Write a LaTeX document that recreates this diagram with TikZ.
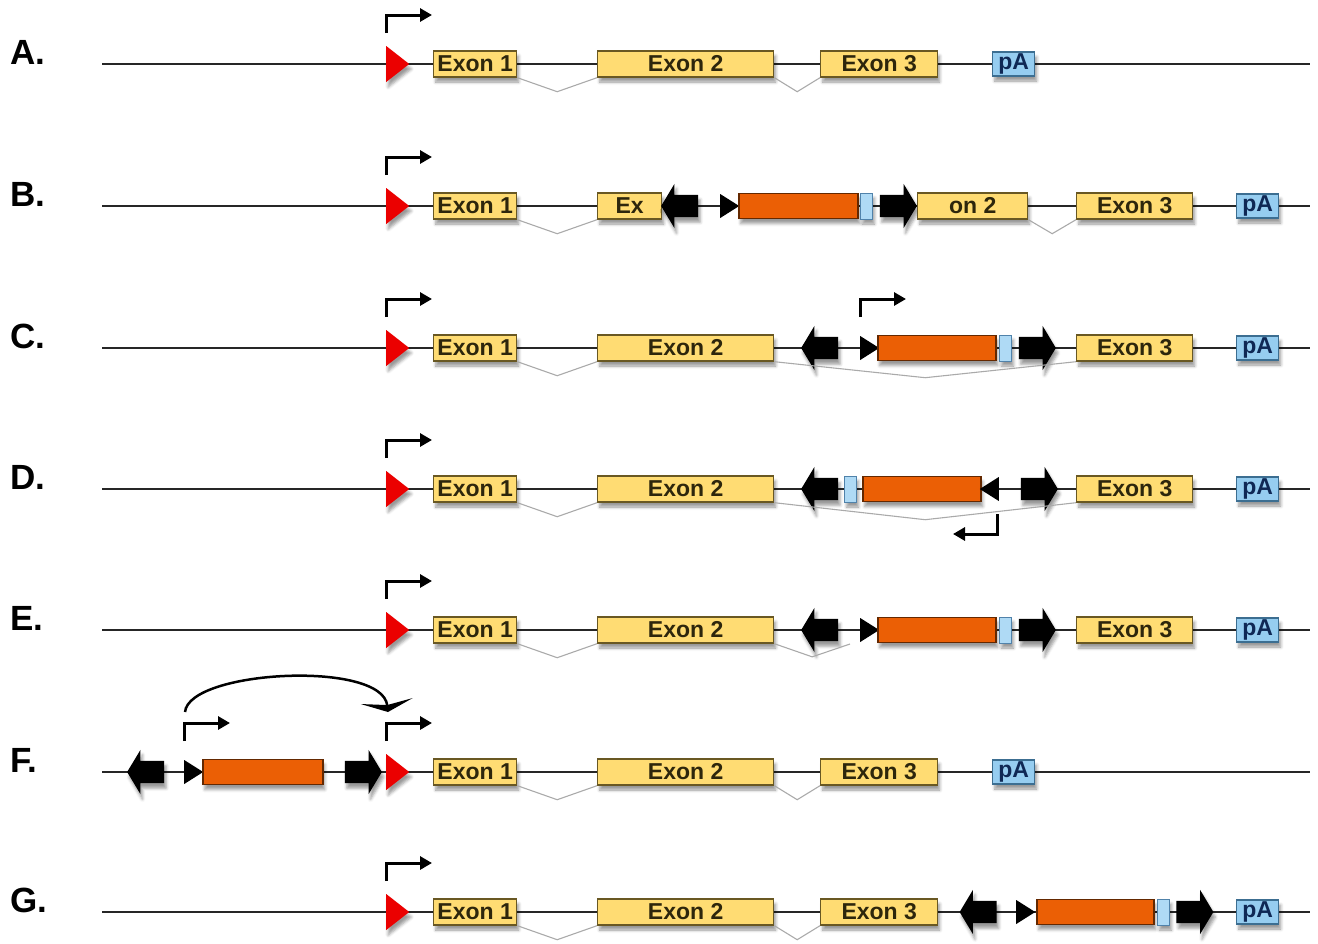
\documentclass[tikz,border=0pt]{standalone}
\usepackage{fontspec}
\setmainfont{Liberation Sans}
\usepackage{tikz}
\usetikzlibrary{arrows.meta,calc,shapes.geometric,shapes.arrows,shadows.blur}
\definecolor{exFill}{RGB}{255,220,115}
\definecolor{exLine}{RGB}{105,88,35}
\definecolor{exText}{RGB}{45,38,12}
\definecolor{paFill}{RGB}{150,205,240}
\definecolor{paLine}{RGB}{60,110,145}
\definecolor{paText}{RGB}{15,40,85}
\definecolor{cdsFill}{RGB}{235,95,5}
\definecolor{cdsLine}{RGB}{100,40,0}
\definecolor{tagFill}{RGB}{175,218,245}
\definecolor{tagLine}{RGB}{80,130,170}
\definecolor{tssRed}{RGB}{235,0,0}
\definecolor{spGrey}{RGB}{170,170,170}
\tikzset{
  shad/.style={blur shadow={shadow xshift=2pt, shadow yshift=-5pt,
               shadow blur radius=3pt, shadow opacity=40}},
  exon/.style={rectangle, draw=exLine, line width=1.4pt, fill=exFill, shad,
               minimum width=#1, minimum height=26pt, inner sep=0pt,
               text=exText, font=\fontsize{23}{23}\selectfont\bfseries},
  pa/.style={rectangle, draw=paLine, line width=1.4pt, fill=paFill, shad,
             minimum width=42pt, minimum height=24pt, inner sep=0pt,
             text=paText, font=\fontsize{23}{23}\selectfont\bfseries},
  cds/.style={rectangle, draw=cdsLine, line width=1.5pt, fill=cdsFill, shad,
              minimum width=#1, minimum height=25pt, inner sep=0pt},
  tag/.style={rectangle, draw=tagLine, line width=1pt, fill=tagFill, shad,
              minimum width=12pt, minimum height=26pt, inner sep=0pt},
  frtR/.style={single arrow, fill=black, shad, minimum height=37pt,
               inner xsep=0pt, inner ysep=11pt, single arrow head extend=11pt,
               single arrow tip angle=118},
  frtL/.style={frtR, shape border rotate=180},
  saR/.style={isosceles triangle, isosceles triangle stretches, fill=black,
              minimum width=24pt, minimum height=19pt, inner sep=0pt, anchor=west},
  saL/.style={saR, shape border rotate=180, anchor=east},
  tss/.style={isosceles triangle, isosceles triangle stretches, fill=tssRed, shad,
              minimum width=36pt, minimum height=23pt, inner sep=0pt, anchor=west},
  dna/.style={line width=2.2pt, draw=black!85},
  splice/.style={draw=spGrey, line width=1.1pt},
  prom/.style={line width=3pt, -{Triangle[length=12pt,width=13pt]}},
  jump/.style={line width=2.5pt, -{Stealth[length=11pt,width=52pt,inset=4pt]}},
  rowlbl/.style={anchor=west, inner sep=0pt, font=\fontsize{35}{35}\selectfont\bfseries},
}
\newcommand{\spliceline}[3]{%
  \draw[splice] (#1.south east) -- ($(#1.south east)!.5!(#2.south west)+(0,#3)$) -- (#2.south west);}
\newcommand{\tssarrow}[1]{\draw[prom] ([yshift=31pt]#1.west) |- ++(46,-18);}

\begin{document}
\begin{tikzpicture}[x=1pt, y=-1pt]
  \useasboundingbox (0,0) rectangle (1318,943);

  % --- backbones and row labels ---
  \foreach \y in {64,206,348,489,630,772,912}
    \draw[dna] (102,\y) -- (1310,\y);
  \foreach \lbl/\y in {A/64,B/206,C/348,D/489,E/630,F/772,G/912}
    \node[rowlbl] (row\lbl) at (10,\y-12) {\lbl.};

  % --- row A ---
  \node[tss] (tssA) at (386,64) {};
  \node[exon=83pt, anchor=west]  (e1A) at (433,64) {Exon 1};
  \node[exon=176pt, anchor=west] (e2A) at (597,64) {Exon 2};
  \node[exon=117pt, anchor=west] (e3A) at (820,64) {Exon 3};
  \node[pa, anchor=west] (paA) at (992,64) {pA};
  \spliceline{e1A}{e2A}{14}
  \spliceline{e2A}{e3A}{14}
  \tssarrow{tssA}

  % --- row B ---
  \node[tss] (tssB) at (386,206) {};
  \node[exon=83pt, anchor=west]  (e1B) at (433,206) {Exon 1};
  \node[exon=64pt, anchor=west]  (exB) at (597,206) {Ex};
  \node[frtL] (frtLB) at (683,206) {};
  \node[saR] (saB) at (720,206) {};
  \node[cds=119pt, anchor=west] (cdsB) at (738,206) {};
  \node[tag, anchor=west] (tagB) at (860,206) {};
  \node[frtR] (frtRB) at (895,206) {};
  \node[exon=110pt, anchor=west] (on2B) at (917,206) {on 2};
  \node[exon=116pt, anchor=west] (e3B) at (1076,206) {Exon 3};
  \node[pa, anchor=west] (paB) at (1236,206) {pA};
  \spliceline{e1B}{exB}{14}
  \spliceline{on2B}{e3B}{14}
  \tssarrow{tssB}

  % --- row C ---
  \node[tss] (tssC) at (386,348) {};
  \node[exon=83pt, anchor=west]  (e1C) at (433,348) {Exon 1};
  \node[exon=176pt, anchor=west] (e2C) at (597,348) {Exon 2};
  \node[frtL] (frtLC) at (823,348) {};
  \node[saR] (saC) at (860,348) {};
  \node[cds=118pt, anchor=west] (cdsC) at (877,348) {};
  \node[tag, anchor=west] (tagC) at (999,348) {};
  \node[frtR] (frtRC) at (1034,348) {};
  \node[exon=116pt, anchor=west] (e3C) at (1076,348) {Exon 3};
  \node[pa, anchor=west] (paC) at (1236,348) {pA};
  \spliceline{e1C}{e2C}{14}
  \spliceline{e2C}{e3C}{16}
  \tssarrow{tssC}
  \tssarrow{saC}

  % --- row D ---
  \node[tss] (tssD) at (386,489) {};
  \node[exon=83pt, anchor=west]  (e1D) at (433,489) {Exon 1};
  \node[exon=176pt, anchor=west] (e2D) at (597,489) {Exon 2};
  \node[frtL] (frtLD) at (823,489) {};
  \node[tag, anchor=west] (tagD) at (844,489) {};
  \node[cds=118pt, anchor=west] (cdsD) at (862,489) {};
  \node[saL] (saD) at (999,489) {};
  \node[frtR] (frtRD) at (1036,489) {};
  \node[exon=116pt, anchor=west] (e3D) at (1076,489) {Exon 3};
  \node[pa, anchor=west] (paD) at (1236,489) {pA};
  \spliceline{e1D}{e2D}{14}
  \spliceline{e2D}{e3D}{17}
  \tssarrow{tssD}
  \draw[prom] ([yshift=-25pt,xshift=-2pt]saD.east) |- ++(-44,20);

  % --- row E ---
  \node[tss] (tssE) at (386,630) {};
  \node[exon=83pt, anchor=west]  (e1E) at (433,630) {Exon 1};
  \node[exon=176pt, anchor=west] (e2E) at (597,630) {Exon 2};
  \node[frtL] (frtLE) at (823,630) {};
  \node[saR] (saE) at (860,630) {};
  \node[cds=118pt, anchor=west] (cdsE) at (877,630) {};
  \node[tag, anchor=west] (tagE) at (999,630) {};
  \node[frtR] (frtRE) at (1034,630) {};
  \node[exon=116pt, anchor=west] (e3E) at (1076,630) {Exon 3};
  \node[pa, anchor=west] (paE) at (1236,630) {pA};
  \coordinate (accE) at (850,644);
  \spliceline{e1E}{e2E}{14}
  \draw[splice] (e2E.south east) -- ($(e2E.south east)!.5!(accE)+(0,13)$) -- (accE);
  \tssarrow{tssE}

  % --- row F ---
  \node[frtL] (frtLF) at (149,772) {};
  \node[saR] (saF) at (184,772) {};
  \node[cds=120pt, anchor=west] (cdsF) at (202,772) {};
  \node[frtR] (frtRF) at (360,772) {};
  \node[tss] (tssF) at (386,772) {};
  \node[exon=83pt, anchor=west]  (e1F) at (433,772) {Exon 1};
  \node[exon=176pt, anchor=west] (e2F) at (597,772) {Exon 2};
  \node[exon=117pt, anchor=west] (e3F) at (820,772) {Exon 3};
  \node[pa, anchor=west] (paF) at (992,772) {pA};
  \spliceline{e1F}{e2F}{14}
  \spliceline{e2F}{e3F}{14}
  \tssarrow{saF}
  \tssarrow{tssF}
  \draw[jump] ([yshift=60pt,xshift=1pt]saF.west) .. controls +(4,-42) and +(-6,-52) .. ([yshift=60pt,xshift=2pt]tssF.west);

  % --- row G ---
  \node[tss] (tssG) at (386,912) {};
  \node[exon=83pt, anchor=west]  (e1G) at (433,912) {Exon 1};
  \node[exon=176pt, anchor=west] (e2G) at (597,912) {Exon 2};
  \node[exon=117pt, anchor=west] (e3G) at (820,912) {Exon 3};
  \node[frtL] (frtLG) at (981.5,912) {};
  \node[saR] (saG) at (1016,912) {};
  \node[cds=117pt, anchor=west] (cdsG) at (1036,912) {};
  \node[tag, anchor=west] (tagG) at (1157,912) {};
  \node[frtR] (frtRG) at (1191.5,912) {};
  \node[pa, anchor=west] (paG) at (1236,912) {pA};
  \spliceline{e1G}{e2G}{14}
  \spliceline{e2G}{e3G}{14}
  \tssarrow{tssG}
\end{tikzpicture}
\end{document}
